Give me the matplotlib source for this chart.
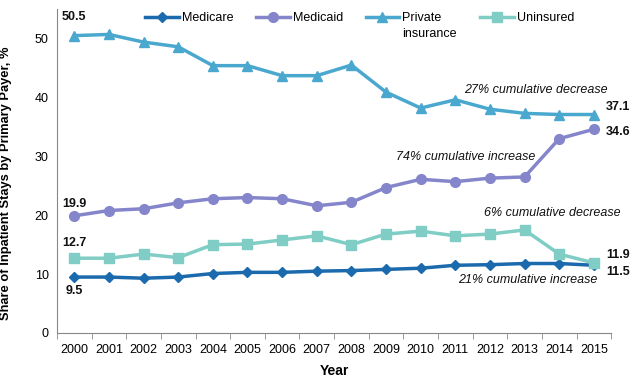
import matplotlib
matplotlib.use('Agg')
from matplotlib import pyplot as plt
import numpy as np

years = ['2000', '2001', '2002', '2003', '2004', '2005', '2006', '2007',
         '2008', '2009', '2010', '2011', '2012', '2013', '2014', '2015']
medicare = [9.5, 9.5, 9.3, 9.5, 10.1, 10.3, 10.3, 10.5, 10.6, 10.8, 11.0, 11.5, 11.6, 11.8, 11.8, 11.5]
medicaid = [19.9, 20.8, 21.1, 22.1, 22.8, 23.0, 22.8, 21.6, 22.2, 24.7, 26.1, 25.7, 26.3, 26.5, 33.0, 34.6]
private = [50.5, 50.7, 49.4, 48.6, 45.4, 45.4, 43.7, 43.7, 45.5, 40.9, 38.2, 39.6, 38.0, 37.3, 37.1, 37.1]
uninsured = [12.7, 12.7, 13.4, 12.8, 15.0, 15.1, 15.8, 16.5, 15.0, 16.8, 17.3, 16.5, 16.8, 17.5, 13.4, 11.9]

plt.rcParams['font.family'] = ['Liberation Sans', 'DejaVu Sans']

fig = plt.figure(figsize=(6.36, 3.8), dpi=100)
ax = fig.add_axes([0.0896, 0.1237, 0.8714, 0.8523])
x = np.arange(len(years))

h1, = ax.plot(x, medicare, color='#1B6AAE', lw=2.5, marker='D', ms=5.5, label='Medicare')
h2, = ax.plot(x, medicaid, color='#8585CC', lw=2.5, marker='o', ms=7, label='Medicaid')
h3, = ax.plot(x, private, color='#4AA8CF', lw=2.5, marker='^', ms=7.5, label='Private')
h4, = ax.plot(x, uninsured, color='#7FCDC4', lw=2.5, marker='s', ms=7, label='Uninsured')

ax.set_xlim(-0.5, len(years) - 0.5)
ax.set_ylim(0, 55)
ax.set_yticks([0, 10, 20, 30, 40, 50])
ax.set_xticks(x)
ax.set_xticklabels(years)
ax.set_xticks(np.arange(-0.5, len(years), 1), minor=True)
ax.tick_params(axis='x', which='major', length=0, labelsize=9, pad=8)
ax.tick_params(axis='x', which='minor', length=4, color='#888888')
ax.tick_params(axis='y', length=0, labelsize=9, pad=6)
for s in ['top', 'right']:
    ax.spines[s].set_visible(False)
for s in ['left', 'bottom']:
    ax.spines[s].set_color('#888888')

ax.set_xlabel('Year', fontsize=10, fontweight='bold', labelpad=6)
ax.set_ylabel('Share of Inpatient Stays by Primary Payer, %', fontsize=9.3, fontweight='bold')
ax.yaxis.set_label_coords(-0.081, 0.463)

# end value labels
bold = dict(fontsize=9, fontweight='bold', color='#111111')
ax.text(0, private[0] + 2.2, '50.5', ha='center', va='bottom', **bold)
ax.text(0, medicaid[0] + 1.0, '19.9', ha='center', va='bottom', **bold)
ax.text(0, uninsured[0] + 1.5, '12.7', ha='center', va='bottom', **bold)
ax.text(0, medicare[0] - 1.3, '9.5', ha='center', va='top', **bold)
ax.text(15.35, 38.4, '37.1', ha='left', va='center', **bold)
ax.text(15.35, 34.2, '34.6', ha='left', va='center', **bold)
ax.text(15.35, 13.2, '11.9', ha='left', va='center', **bold)
ax.text(15.35, 10.4, '11.5', ha='left', va='center', **bold)

# change annotations
it = dict(fontsize=9, style='italic', color='#111111', ha='center', va='center')
ax.text(13.32, 41.2, '27% cumulative decrease', **it)
ax.text(11.3, 29.9, '74% cumulative increase', **it)
ax.text(13.8, 20.4, '6% cumulative decrease', **it)
ax.text(13.1, 9.0, '21% cumulative increase', **it)

legkw = dict(frameon=False, fontsize=9, handlelength=2.7, handletextpad=0.25,
             columnspacing=1.8, borderpad=0, borderaxespad=0, loc='center left')
leg = ax.legend(handles=[h1, h2, h3], ncol=3, bbox_to_anchor=(0.159, 0.972), **legkw)
ax.add_artist(leg)
ax.legend(handles=[h4], ncol=1, bbox_to_anchor=(0.7635, 0.972), **legkw)

# second line of the "Private insurance" legend label
fig.canvas.draw()
bb = leg.get_texts()[2].get_window_extent()
x0, y0 = fig.transFigure.inverted().transform((bb.x0, bb.y0))
fig.text(x0, y0 - 0.009, 'insurance', fontsize=9, ha='left', va='top')

plt.savefig('out.png', dpi=100)
